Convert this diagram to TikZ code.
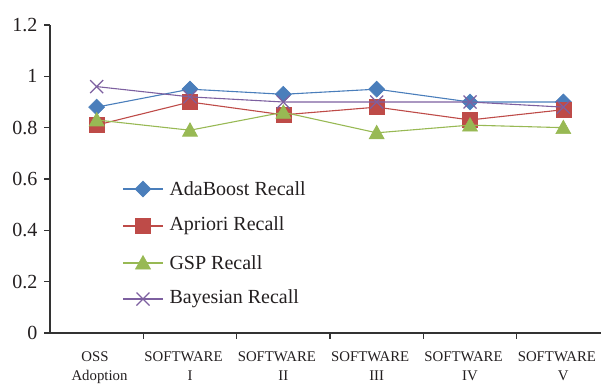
\documentclass[tikz,border=0pt]{standalone}
\usepackage{fontspec}
\setmainfont{Liberation Serif}
\definecolor{adablue}{HTML}{4A7EBB}
\definecolor{aprred}{HTML}{BE4B48}
\definecolor{gspgreen}{HTML}{98B954}
\definecolor{baypurple}{HTML}{7D60A0}
\definecolor{axisgray}{HTML}{333333}
\definecolor{textgray}{HTML}{231F20}

% Marker shapes of the four series
\pgfdeclareplotmark{mdiamond}{%
  \pgfpathmoveto{\pgfqpoint{0pt}{8pt}}%
  \pgfpathlineto{\pgfqpoint{8pt}{0pt}}%
  \pgfpathlineto{\pgfqpoint{0pt}{-8pt}}%
  \pgfpathlineto{\pgfqpoint{-8pt}{0pt}}%
  \pgfpathclose\pgfusepathqfillstroke}
\pgfdeclareplotmark{msquare}{%
  \pgfpathrectangle{\pgfqpoint{-7.5pt}{-7.5pt}}{\pgfqpoint{15pt}{15pt}}%
  \pgfusepathqfillstroke}
\pgfdeclareplotmark{mtriangle}{%
  \pgfpathmoveto{\pgfqpoint{0pt}{7.5pt}}%
  \pgfpathlineto{\pgfqpoint{7.5pt}{-6pt}}%
  \pgfpathlineto{\pgfqpoint{-7.5pt}{-6pt}}%
  \pgfpathclose\pgfusepathqfillstroke}
\pgfdeclareplotmark{mcross}{%
  \pgfpathmoveto{\pgfqpoint{-6.5pt}{-6.5pt}}%
  \pgfpathlineto{\pgfqpoint{6.5pt}{6.5pt}}%
  \pgfpathmoveto{\pgfqpoint{-6.5pt}{6.5pt}}%
  \pgfpathlineto{\pgfqpoint{6.5pt}{-6.5pt}}%
  \pgfusepathqstroke}

\begin{document}
\begin{tikzpicture}[x=1pt,y=1pt,
  axisline/.style={draw=axisgray,line width=1.1pt},
  ticklabel/.style={text=textgray,font=\fontsize{20}{24}\selectfont},
  catlabel/.style={text=textgray,anchor=base,inner sep=0pt,font=\fontsize{14.8}{19}\selectfont},
  legtext/.style={text=textgray,anchor=west,font=\fontsize{20}{24}\selectfont},
  seriesline/.style={line width=1.1pt},
  adamark/.style={mark=mdiamond,mark options={draw=adablue,fill=adablue,line width=0.6pt}},
  aprmark/.style={mark=msquare,mark options={draw=aprred,fill=aprred,line width=0.6pt}},
  gspmark/.style={mark=mtriangle,mark options={draw=gspgreen,fill=gspgreen,line width=0.6pt}},
  baymark/.style={mark=mcross,mark options={draw=baypurple,line width=1.2pt}}]
\useasboundingbox (0,0) rectangle (601,384);

% axes
\draw[axisline] (50,359) -- (50,51) -- (601,51);
\foreach \k/\lab in {0/0,1/0.2,2/0.4,3/0.6,4/0.8,5/1,6/1.2}{
  \draw[axisline] (44,51+51.333*\k) -- (50,51+51.333*\k);
  \node[ticklabel,anchor=east] (yl\k) at (41,51+51.333*\k) {\lab};
}
\foreach \k in {1,...,5}{
  \draw[axisline] (50+93.333*\k,51) -- (50+93.333*\k,45);
}

% category labels (two lines each)
\node[catlabel] (xa0) at (95,22.5) {OSS};
\node[catlabel] (xb0) at (99.5,4) {Adoption};
\foreach \k/\num in {1/I,2/II,3/III,4/IV,5/V}{
  \node[catlabel] (xa\k) at (90.2+93.333*\k,22.5) {SOFTWARE};
  \node[catlabel] (xb\k) at (96.667+93.333*\k,4) {\num};
}

% data series
\begin{scope}[shift={(0,51)},y=256.667pt]
  \draw[seriesline,adablue,adamark] plot coordinates {(96.667,0.88) (190,0.95) (283.333,0.93) (376.667,0.95) (470,0.90) (563.333,0.90)};
  \draw[seriesline,aprred,aprmark] plot coordinates {(96.667,0.81) (190,0.90) (283.333,0.85) (376.667,0.88) (470,0.83) (563.333,0.87)};
  \draw[seriesline,gspgreen,gspmark] plot coordinates {(96.667,0.83) (190,0.79) (283.333,0.86) (376.667,0.78) (470,0.81) (563.333,0.80)};
  \draw[seriesline,baypurple,baymark] plot coordinates {(96.667,0.96) (190,0.92) (283.333,0.90) (376.667,0.90) (470,0.90) (563.333,0.88)};
\end{scope}

% legend
\foreach \y/\col/\mk/\lab [count=\i] in {195/adablue/adamark/AdaBoost Recall,158/aprred/aprmark/Apriori Recall,121/gspgreen/gspmark/GSP Recall,85/baypurple/baymark/Bayesian Recall}{
  \draw[seriesline,\col] (123,\y) -- (163,\y);
  \path[\mk] plot coordinates {(143,\y)};
  \node[legtext] (leg\i) at (166,\y) {\lab};
}
\end{tikzpicture}
\end{document}
